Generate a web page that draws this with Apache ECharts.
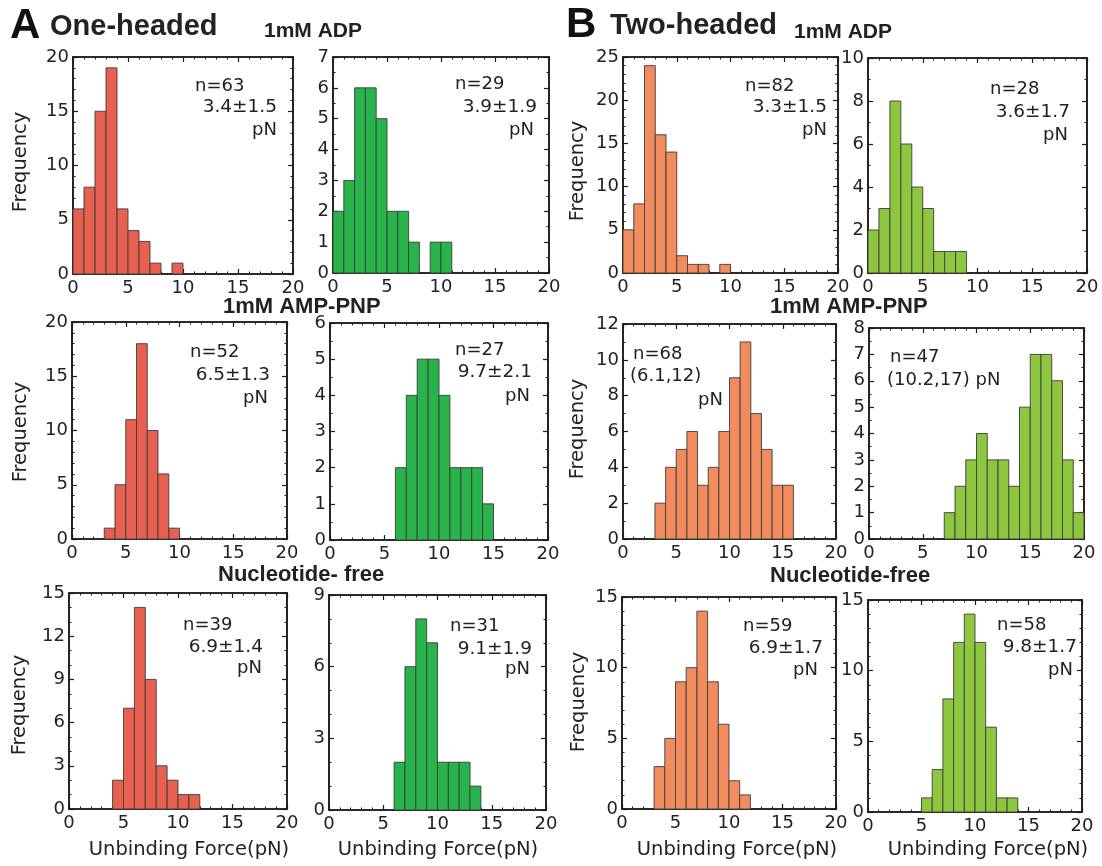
<!DOCTYPE html>
<html>
<head>
<meta charset="utf-8">
<script src="https://cdn.jsdelivr.net/npm/echarts@6/dist/echarts.min.js"></script>
<style>
  html, body { margin: 0; padding: 0; background: #ffffff; }
  #chart { width: 1102px; height: 866px; }
</style>
</head>
<body>
<div id="chart"></div>
<script>
// ---------------- DATA ----------------
// Histogram bins: each bin starts at the value below and is 1 pN wide (0-1, 1-2, ..., 19-20)
const binStarts = [0,1,2,3,4,5,6,7,8,9,10,11,12,13,14,15,16,17,18,19];
const binWidth = 1;

// A: One-headed (red = left column, green = right column)
const oneHeadedADP_red      = [6,8,15,19,6,4,3,1,0,1,0,0,0,0,0,0,0,0,0,0];
const oneHeadedADP_green    = [2,3,6,6,5,2,2,1,0,1,1,0,0,0,0,0,0,0,0,0];
const oneHeadedAMPPNP_red   = [0,0,0,1,5,11,18,10,6,1,0,0,0,0,0,0,0,0,0,0];
const oneHeadedAMPPNP_green = [0,0,0,0,0,0,2,4,5,5,4,2,2,2,1,0,0,0,0,0];
const oneHeadedFree_red     = [0,0,0,0,2,7,14,9,3,2,1,1,0,0,0,0,0,0,0,0];
const oneHeadedFree_green   = [0,0,0,0,0,0,2,6,8,7,2,2,2,1,0,0,0,0,0,0];

// B: Two-headed (orange = left column, light green = right column)
const twoHeadedADP_orange    = [5,8,24,16,14,2,1,1,0,1,0,0,0,0,0,0,0,0,0,0];
const twoHeadedADP_lime      = [2,3,8,6,4,3,1,1,1,0,0,0,0,0,0,0,0,0,0,0];
const twoHeadedAMPPNP_orange = [0,0,0,2,4,5,6,3,4,6,9,11,7,5,3,3,0,0,0,0];
const twoHeadedAMPPNP_lime   = [0,0,0,0,0,0,0,1,2,3,4,3,3,2,5,7,7,6,3,1];
const twoHeadedFree_orange   = [0,0,0,3,5,9,10,14,9,6,2,1,0,0,0,0,0,0,0,0];
const twoHeadedFree_lime     = [0,0,0,0,0,1,3,8,12,14,12,6,1,1,0,0,0,0,0,0];

// Axis ranges / tick steps (panel order: row by row, left to right)
const xTicks = [0,5,10,15,20];
const yMax      = [20,7,25,10, 20,6,12,8, 15,9,15,15];
const yInterval = [5,1,5,2,   5,1,2,1,   3,3,5,5];

// Annotations
const nLabels    = ['n=63','n=29','n=82','n=28','n=52','n=27','n=68','n=47','n=39','n=31','n=59','n=58'];
const statLabels = ['3.4\u00b11.5','3.9\u00b11.9','3.3\u00b11.5','3.6\u00b11.7','6.5\u00b11.3','9.7\u00b12.1','(6.1,12)','(10.2,17) pN','6.9\u00b11.4','9.1\u00b11.9','6.9\u00b11.7','9.8\u00b11.7'];
const unitLabels = ['pN','pN','pN','pN','pN','pN','pN','','pN','pN','pN','pN'];

const panelTitles = ['One-headed','Two-headed'];
const conditionLabels = ['1mM ADP','1mM AMP-PNP','Nucleotide- free','Nucleotide-free'];
const yAxisName = 'Frequency';
const xAxisName = 'Unbinding Force(pN)';

// ---------------- STYLE / LAYOUT ----------------
const panelData = [
  oneHeadedADP_red, oneHeadedADP_green, twoHeadedADP_orange, twoHeadedADP_lime,
  oneHeadedAMPPNP_red, oneHeadedAMPPNP_green, twoHeadedAMPPNP_orange, twoHeadedAMPPNP_lime,
  oneHeadedFree_red, oneHeadedFree_green, twoHeadedFree_orange, twoHeadedFree_lime
];
const RED = '#e8604f', GREEN = '#29b34b', ORANGE = '#f28b5e', LIME = '#8dc63f';
const panelColors = [RED, GREEN, ORANGE, LIME, RED, GREEN, ORANGE, LIME, RED, GREEN, ORANGE, LIME];

// grid boxes [left, top, width, height]
const boxes = [
  [73,57,220,217], [333,57,216,216], [623,57,215,216], [868,58,219,215],
  [72,322,215,217], [330,323,218,217], [623,324,213,215], [869,328,215,211],
  [69,593,218,216], [329,595,217,215], [622,597,214,212], [868,600,214,212]
];
// annotation positions: [nLeft, nY, statRight, statY, unitRight, unitY]
const annotPos = [
  [195,86, 277,107.5, 277,130],
  [455,84.5, 537,107.5, 534,130],
  [745,86, 827,107.5, 827,130],
  [990,89, 1070,112.5, 1068,135],
  [190,352, 270,375.5, 268,398],
  [455,350.5, 532,372.5, 530,396.5],
  [633,354.5, 707,376.5, 723,400],
  [890,357.5, 1010,380, 0,0],
  [183,625, 263,647.5, 262,668.5],
  [450,626, 532,649, 530,669.5],
  [743,626, 823,648.5, 818,670.5],
  [997,625.5, 1077,647.5, 1073,670]
];

const AXIS_COLOR = '#1c1c1c';
const TEXT_COLOR = '#222222';
const NUM_FONT = 'DejaVu Sans';
const TITLE_FONT = 'Liberation Sans';

const grids = [], xAxes = [], yAxes = [], series = [];
boxes.forEach((b, i) => {
  grids.push({ left: b[0], top: b[1], width: b[2], height: b[3], show: true,
    borderColor: AXIS_COLOR, borderWidth: 1.6, backgroundColor: '#ffffff' });
  const xCommon = {
    gridIndex: i, type: 'value', min: xTicks[0], max: xTicks[xTicks.length - 1], interval: 5,
    axisLine: { show: true, onZero: false, lineStyle: { color: AXIS_COLOR, width: 1.6 } },
    axisTick: { show: true, inside: true, length: 5, lineStyle: { color: AXIS_COLOR, width: 1.2 } },
    minorTick: { show: true, splitNumber: 5, length: 2.5, lineStyle: { color: AXIS_COLOR, width: 1 } },
    splitLine: { show: false }, minorSplitLine: { show: false }
  };
  xAxes.push(Object.assign({}, xCommon, { position: 'bottom',
    axisLabel: { show: true, margin: 5, fontSize: 18, fontFamily: NUM_FONT, color: TEXT_COLOR } }));
  xAxes.push(Object.assign({}, xCommon, { position: 'top', axisLabel: { show: false } }));
  const step = yInterval[i];
  const yCommon = {
    gridIndex: i, type: 'value', min: 0, max: yMax[i], interval: step,
    axisLine: { show: true, onZero: false, lineStyle: { color: AXIS_COLOR, width: 1.6 } },
    axisTick: { show: true, inside: true, length: 5, lineStyle: { color: AXIS_COLOR, width: 1.2 } },
    minorTick: { show: true, splitNumber: step === 5 ? 5 : (step === 3 ? 3 : 2), length: 2.5, lineStyle: { color: AXIS_COLOR, width: 1 } },
    splitLine: { show: false }, minorSplitLine: { show: false }
  };
  yAxes.push(Object.assign({}, yCommon, { position: 'left',
    axisLabel: { show: true, margin: 4, fontSize: 18, fontFamily: NUM_FONT, color: TEXT_COLOR } }));
  yAxes.push(Object.assign({}, yCommon, { position: 'right', axisLabel: { show: false } }));

  series.push({
    type: 'custom',
    xAxisIndex: 2 * i, yAxisIndex: 2 * i,
    itemStyle: { color: panelColors[i] },
    data: binStarts.map((s, k) => [s, panelData[i][k]]),
    renderItem: function (params, api) {
      const start = api.value(0), count = api.value(1);
      if (!count) return null;
      const p0 = api.coord([start, 0]);
      const p1 = api.coord([start + binWidth, count]);
      return {
        type: 'rect',
        shape: { x: p0[0], y: p1[1], width: p1[0] - p0[0], height: p0[1] - p1[1] },
        style: { fill: api.visual('color'), stroke: '#3d3d3d', lineWidth: 0.9 }
      };
    },
    silent: true, animation: false, z: 1
  });
});

// ---------------- TEXT GRAPHICS ----------------
const graphics = [];
function txt(text, x, y, font, align, extra) {
  graphics.push(Object.assign({ type: 'text', x: x, y: y, z: 100, silent: true,
    style: { text: text, font: font, fill: TEXT_COLOR, align: align || 'left', verticalAlign: 'middle' } }, extra || {}));
}
// panel letters & group titles
txt('A', 10, 26, 'bold 42px ' + TITLE_FONT, 'left', { style: { text: 'A', font: 'bold 42px ' + TITLE_FONT, fill: '#111', align: 'left', verticalAlign: 'middle' } });
txt(panelTitles[0], 50, 27, 'bold 29px ' + TITLE_FONT);
txt(conditionLabels[0], 264, 31, 'bold 21px ' + TITLE_FONT);
txt('B', 566, 25, 'bold 42px ' + TITLE_FONT, 'left', { style: { text: 'B', font: 'bold 42px ' + TITLE_FONT, fill: '#111', align: 'left', verticalAlign: 'middle' } });
txt(panelTitles[1], 610, 26, 'bold 29px ' + TITLE_FONT);
txt(conditionLabels[0], 794, 32, 'bold 21px ' + TITLE_FONT);
txt(conditionLabels[1], 223, 307, 'bold 22px ' + TITLE_FONT);
txt(conditionLabels[1], 770, 307, 'bold 22px ' + TITLE_FONT);
txt(conditionLabels[2], 218, 575, 'bold 22px ' + TITLE_FONT);
txt(conditionLabels[3], 770, 576, 'bold 22px ' + TITLE_FONT);

// y axis names (left column of each group)
const freqPos = [[21,162],[578,171],[21,432],[578,429],[20,705],[579,702]];
freqPos.forEach(p => {
  graphics.push({ type: 'text', x: p[0], y: p[1], rotation: Math.PI / 2, z: 100, silent: true,
    style: { text: yAxisName, font: '19.5px ' + NUM_FONT, fill: TEXT_COLOR, align: 'center', verticalAlign: 'middle' } });
});
// x axis names (bottom row)
[[189,850],[438,850],[737,850],[988,850]].forEach(p => {
  txt(xAxisName, p[0], p[1], '19.5px ' + NUM_FONT, 'center');
});

// annotations
annotPos.forEach((a, i) => {
  txt(nLabels[i], a[0], a[1], '18px ' + NUM_FONT, 'left');
  if (i === 6 || i === 7) {
    txt(statLabels[i], a[0] - 3, a[3], '18px ' + NUM_FONT, 'left');
  } else {
    txt(statLabels[i], a[2], a[3], '18.5px ' + NUM_FONT, 'right');
  }
  if (unitLabels[i]) {
    if (i === 6) txt(unitLabels[i], a[4], a[5], '18px ' + NUM_FONT, 'right');
    else txt(unitLabels[i], a[4], a[5], '18px ' + NUM_FONT, 'right');
  }
});

const chart = echarts.init(document.getElementById('chart'), null, { renderer: 'canvas' });
chart.setOption({
  backgroundColor: '#ffffff',
  animation: false,
  grid: grids,
  xAxis: xAxes,
  yAxis: yAxes,
  series: series,
  graphic: graphics
});
</script>
</body>
</html>
